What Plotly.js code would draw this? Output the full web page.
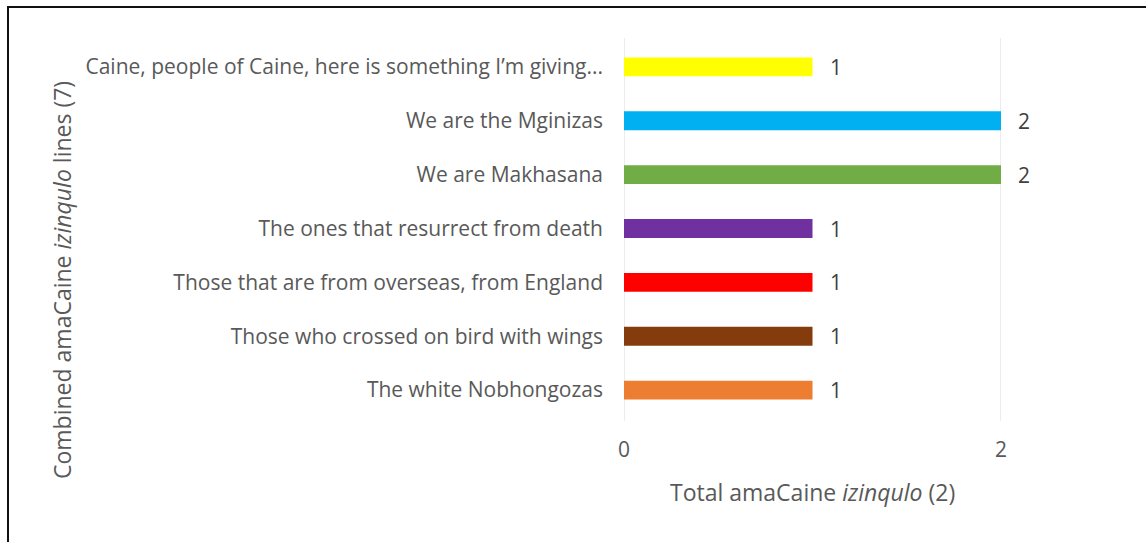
<!DOCTYPE html>
<html>
<head>
<meta charset="utf-8">
<script src="https://cdn.plot.ly/plotly-3.0.1.min.js"></script>
<style>
  html, body { margin: 0; padding: 0; background: #fff; }
  #wrap { position: absolute; left: 0; top: 0; width: 1146px; height: 542px; background:#fff; }
  #frame { position: absolute; left: 7px; top: 6px; width: 1139px; height: 536px; border-left: 2px solid #111; border-top: 2px solid #111; pointer-events:none; }
  #chart { position: absolute; left: 0; top: 0; width: 1146px; height: 542px; }
</style>
</head>
<body>
<div id="wrap">
  <div id="chart"></div>
  <div id="frame"></div>
</div>
<script>
const categories = [
  "Caine, people of Caine, here is something I\u2019m giving...",
  "We are the Mginizas",
  "We are Makhasana",
  "The ones that resurrect from death",
  "Those that are from overseas, from England",
  "Those who crossed on bird with wings",
  "The white Nobhongozas"
];
const values = [1, 2, 2, 1, 1, 1, 1];
const barColors = ["#FFFF00", "#00B0F0", "#70AD47", "#7030A0", "#FF0000", "#843C0C", "#ED7D31"];
const xTickVals = [0, 2];
const xTickText = ["0", "2"];
const xTitle = "Total amaCaine <i>izinqulo</i> (2)";
const yTitle = "Combined amaCaine <i>izinqulo</i> lines (7)";

const W = 1146, H = 542;
const mL = 624, mR = 145, mT = 40, mB = 125;
const plotW = W - mL - mR, plotH = H - mT - mB;
const gray = "#595959";
const font = "Open Sans, DejaVu Sans, sans-serif";

const trace = {
  type: "bar",
  orientation: "h",
  x: values,
  y: categories,
  marker: { color: barColors, line: { width: 0 } },
  hoverinfo: "x+y",
  showlegend: false
};

const labelAnnotations = values.map((v, i) => ({
  x: v, y: categories[i], xref: "x", yref: "y",
  text: String(v), showarrow: false, xanchor: "left", xshift: 15,
  font: { family: font, size: 21, color: "#404040" }
}));

const layout = {
  width: W, height: H,
  margin: { l: mL, r: mR, t: mT, b: mB, pad: 0 },
  paper_bgcolor: "rgba(0,0,0,0)",
  plot_bgcolor: "rgba(0,0,0,0)",
  bargap: 0.65,
  font: { family: font, color: gray },
  xaxis: {
    range: [0, 2],
    tickvals: xTickVals, ticktext: xTickText,
    showgrid: true, gridcolor: "#d9d9d9", gridwidth: 1,
    zeroline: false, showline: false, ticks: "",
    tickfont: { family: font, size: 21, color: gray },
    ticklabelstandoff: 18,
    fixedrange: true
  },
  yaxis: {
    autorange: "reversed",
    type: "category",
    showgrid: false, zeroline: false, showline: false, ticks: "",
    tickfont: { family: font, size: 21, color: gray },
    ticklabelstandoff: 20,
    fixedrange: true
  },
  shapes: [
    { type: "line", xref: "x", yref: "paper", x0: 0, x1: 0, y0: -0.01, y1: 1.005, line: { color: "#d9d9d9", width: 1 }, layer: "below" },
    { type: "line", xref: "x", yref: "paper", x0: 2, x1: 2, y0: -0.01, y1: 1.005, line: { color: "#d9d9d9", width: 1 }, layer: "below" }
  ],
  annotations: labelAnnotations.concat([
    {
      xref: "paper", yref: "paper",
      x: 0.5, y: (H - mB - 492) / plotH,
      text: xTitle, showarrow: false,
      xanchor: "center", yanchor: "middle",
      font: { family: font, size: 23, color: gray }
    },
    {
      xref: "paper", yref: "paper",
      x: (62 - mL) / plotW, y: (H - mB - 280) / plotH,
      text: yTitle, textangle: -90, showarrow: false,
      xanchor: "center", yanchor: "middle",
      font: { family: font, size: 23, color: gray }
    }
  ])
};

Plotly.newPlot("chart", [trace], layout, { displayModeBar: false, staticPlot: true });
</script>
</body>
</html>
